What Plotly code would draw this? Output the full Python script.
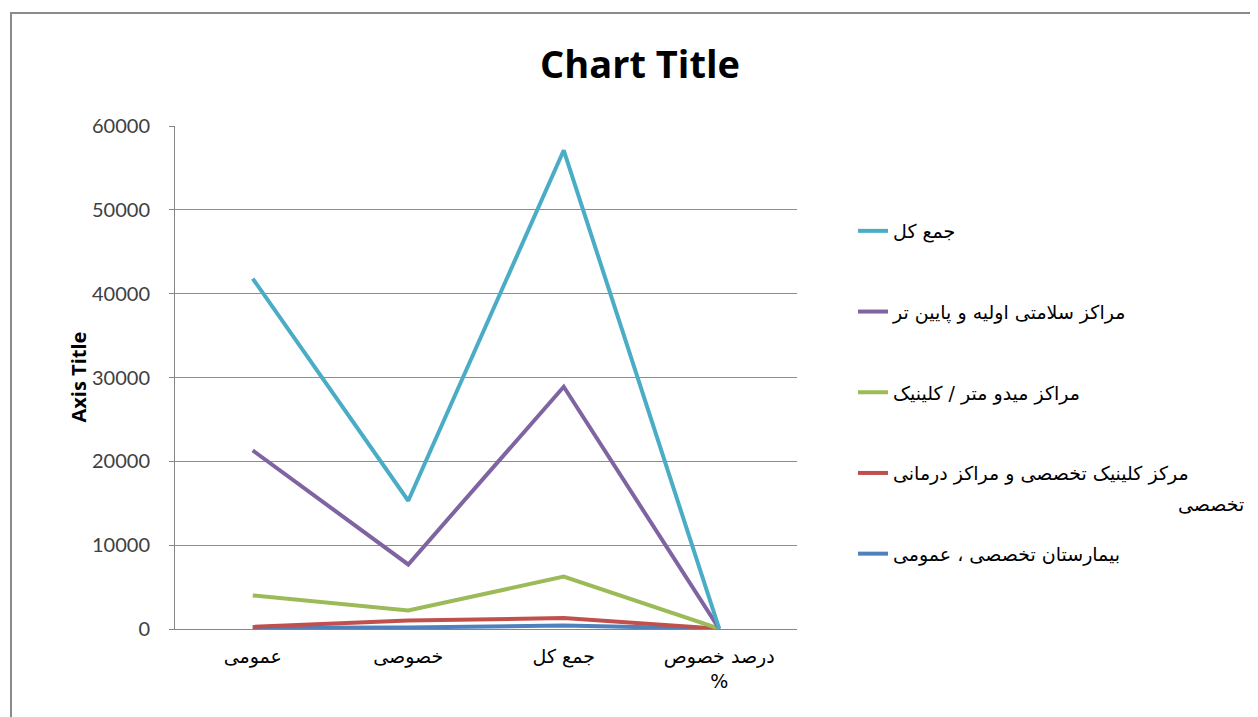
import plotly.graph_objects as go

categories = ["عمومی", "خصوصی", "جمع کل", "درصد خصوص<br>%"]

series_names = [
    "بیمارستان تخصصی ، عمومی",
    "مرکز کلینیک تخصصی و مراکز درمانی",
    "مراکز میدو متر / کلینیک",
    "مراکز سلامتی اولیه و پایین تر",
    "جمع کل",
]
legend_wrap_text = "تخصصی"
hospital = [150, 180, 420, 20]
specialist = [250, 1000, 1300, 40]
clinic = [4000, 2200, 6250, 35]
primary = [21300, 7700, 28900, 27]
total = [41800, 15300, 57100, 27]
series_values = [hospital, specialist, clinic, primary, total]
colors = ["#4F81BD", "#C0504D", "#9BBB59", "#8064A2", "#4BACC6"]
legend_ranks = [5, 4, 3, 2, 1]

y_ticks = [0, 10000, 20000, 30000, 40000, 50000, 60000]

fig = go.Figure()
for name, vals, col, rk in zip(series_names, series_values, colors, legend_ranks):
    fig.add_trace(go.Scatter(
        x=categories, y=vals, name=name, mode="lines",
        line=dict(color=col, width=4), legendgroup=name, legendrank=rk,
    ))

OFF = 8  # page offset of the figure div
W, H = 1258 - OFF, 717 - OFF
L, R, T, B = 175 - OFF, 797 - OFF, 126 - OFF, 629 - OFF
pw, ph = R - L, B - T


def px_x(x):
    return (x - OFF - L) / pw


def px_y(y):
    return (B - (y - OFF)) / ph


fig.update_layout(
    width=W, height=H,
    margin=dict(l=L, r=W - R, t=T, b=H - B, pad=0),
    paper_bgcolor="white", plot_bgcolor="white",
    title=dict(text="<b>Chart Title</b>", x=px_x(640), xref="paper", xanchor="center",
               y=1 - (65 - OFF) / H, yref="container", yanchor="middle",
               font=dict(family="Open Sans, Lato, sans-serif", size=38, color="#000000")),
    showlegend=True,
    legend=dict(x=px_x(853), y=px_y(212), xanchor="left", yanchor="top",
                traceorder="grouped", tracegroupgap=53,
                font=dict(family="DejaVu Sans, sans-serif", size=19, color="#000000"),
                bgcolor="rgba(0,0,0,0)"),
    xaxis=dict(type="category", range=[-0.5, 3.5], showgrid=False,
               showline=True, linecolor="#868686", linewidth=1,
               ticks="", tickfont=dict(family="DejaVu Sans, sans-serif", size=19, color="#000000"),
               ticklabelstandoff=10, fixedrange=True),
    yaxis=dict(range=[0, 60000], tickvals=y_ticks, showgrid=True,
               gridcolor="#8c8c8c", gridwidth=1, zeroline=False,
               showline=True, linecolor="#868686", linewidth=1,
               ticks="outside", ticklen=5, tickcolor="#868686",
               tickfont=dict(family="Lato, Open Sans, sans-serif", size=20, color="#404040"),
               ticklabelstandoff=15, tickformat="d"),
    annotations=[
        dict(text="<b>Axis Title</b>", x=px_x(62), y=px_y(377),
             xref="paper", yref="paper", textangle=-90, showarrow=False,
             font=dict(family="Open Sans, Lato, sans-serif", size=20, color="#000000")),
        dict(text=legend_wrap_text, x=px_x(1246), y=px_y(504),
             xref="paper", yref="paper", xanchor="right", yanchor="middle", showarrow=False,
             font=dict(family="DejaVu Sans, sans-serif", size=19, color="#000000")),
    ],
    shapes=[dict(type="rect", xref="paper", yref="paper",
                 x0=px_x(11), x1=px_x(1290), y0=px_y(760), y1=px_y(13),
                 line=dict(color="#8a8a8a", width=2), fillcolor="rgba(0,0,0,0)", layer="below")],
)

fig.write_html("out.html")
